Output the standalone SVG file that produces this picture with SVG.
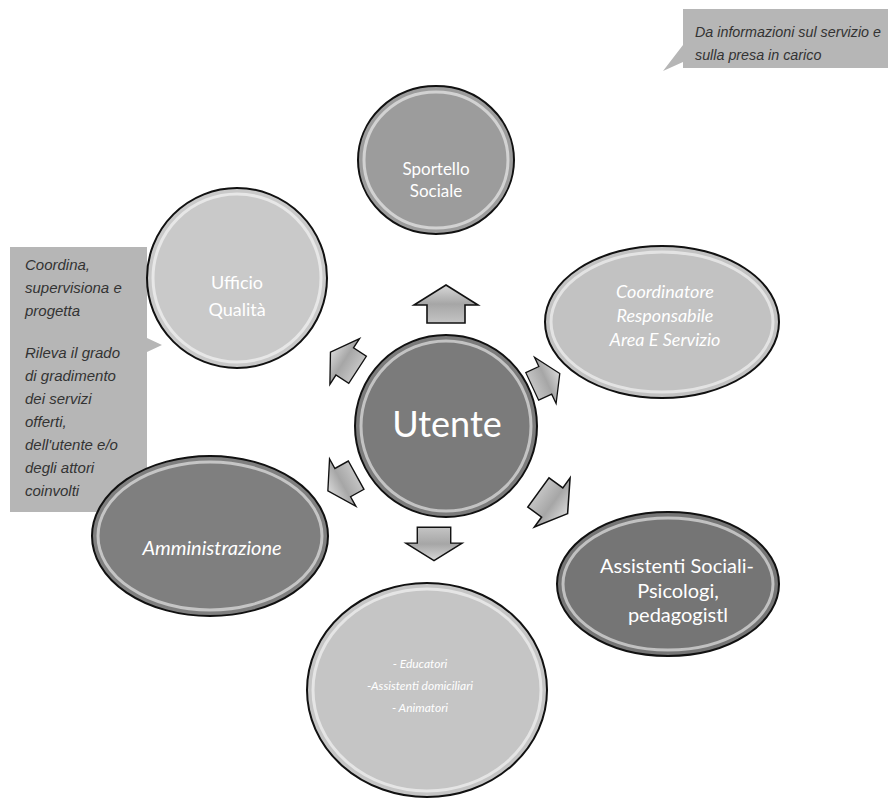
<svg xmlns="http://www.w3.org/2000/svg" xmlns:xlink="http://www.w3.org/1999/xlink" width="888" height="799" viewBox="0 0 888 799">
<style>
.node{stroke:#111;stroke-width:2}
.rim{fill:none;stroke:#fff;stroke-opacity:0.55;stroke-width:3}
.nt{font-family:Lato,"Open Sans",sans-serif;fill:#fff;text-anchor:middle}
.it{font-style:italic}
.ct{font-family:"Liberation Sans",Arial,sans-serif;font-style:italic;font-size:15px;fill:#333}
.callout{fill:#b6b6b6}
.arrow{fill:url(#ag);stroke:#111;stroke-width:1.6;stroke-linejoin:miter}
</style>
<defs>
<linearGradient id="ag" x1="0" y1="0" x2="0" y2="1">
<stop offset="0" stop-color="#d8d8d8"/>
<stop offset="0.5" stop-color="#a6a6a6"/>
<stop offset="1" stop-color="#c4c4c4"/>
</linearGradient>
<path id="arr" d="M0,-19 L32,1 L19,1 L19,19 L-19,19 L-19,1 L-32,1 Z"/>
</defs>
<rect width="888" height="799" fill="#fff"/>

<g id="callout-top">
<path class="callout" d="M683,9 L888,9 L888,68 L683,68 L683,62 L663,71 L683,45 Z"/>
<text class="ct" x="695" y="37" font-size="14.3" style="font-size:14.3px">Da informazioni sul servizio e</text>
<text class="ct" x="695" y="60" style="font-size:14.3px">sulla presa in carico</text>
</g>

<g id="callout-left">
<path class="callout" d="M10,247 L147,247 L147,338 L162,345 L147,352 L147,512 L10,512 Z"/>
<text class="ct" x="25" y="270">Coordina,</text>
<text class="ct" x="25" y="293">supervisiona e</text>
<text class="ct" x="25" y="316">progetta</text>
<text class="ct" x="25" y="358">Rileva il grado</text>
<text class="ct" x="25" y="381">di gradimento</text>
<text class="ct" x="25" y="404">dei servizi</text>
<text class="ct" x="25" y="427">offerti,</text>
<text class="ct" x="25" y="450">dell'utente e/o</text>
<text class="ct" x="25" y="473">degli attori</text>
<text class="ct" x="25" y="496">coinvolti</text>
</g>

<g id="connectors">
<use xlink:href="#arr" href="#arr" class="arrow" transform="translate(446,304)"/>
<use xlink:href="#arr" href="#arr" class="arrow" transform="translate(344,361) rotate(-57) scale(0.85)"/>
<use xlink:href="#arr" href="#arr" class="arrow" transform="translate(546,380) rotate(65) scale(0.8)"/>
<use xlink:href="#arr" href="#arr" class="arrow" transform="translate(553,503) rotate(126) scale(0.95)"/>
<use xlink:href="#arr" href="#arr" class="arrow" transform="translate(434,544) rotate(180) scale(0.88)"/>
<use xlink:href="#arr" href="#arr" class="arrow" transform="translate(342,483) rotate(-119) scale(0.85)"/>
</g>

<g id="sportello">
<ellipse class="node" cx="436" cy="160" rx="78" ry="74" fill="#9c9c9c"/>
<ellipse class="rim" cx="436" cy="160" rx="72" ry="68"/>
<text class="nt" x="436" y="175" font-size="17">Sportello</text>
<text class="nt" x="436" y="197" font-size="17">Sociale</text>
</g>

<g id="ufficio">
<ellipse class="node" cx="237" cy="278" rx="90" ry="90" fill="#c9c9c9"/>
<ellipse class="rim" cx="237" cy="278" rx="84" ry="84"/>
<text class="nt" x="237" y="289" font-size="18">Ufficio</text>
<text class="nt" x="237" y="316" font-size="18">Qualità</text>
</g>

<g id="coordinatore">
<ellipse class="node" cx="662" cy="322" rx="117" ry="76" fill="#c2c2c2"/>
<ellipse class="rim" cx="662" cy="322" rx="111" ry="70"/>
<text class="nt it" x="665" y="298" font-size="18">Coordinatore</text>
<text class="nt it" x="665" y="322" font-size="18">Responsabile</text>
<text class="nt it" x="665" y="346" font-size="18">Area E Servizio</text>
</g>

<g id="utente">
<ellipse class="node" cx="446" cy="426" rx="91" ry="91" fill="#7b7b7b"/>
<ellipse class="rim" cx="446" cy="426" rx="85" ry="85"/>
<text class="nt" x="447" y="437" font-size="36">Utente</text>
</g>

<g id="amministrazione">
<ellipse class="node" cx="210" cy="536" rx="118" ry="80" fill="#7f7f7f"/>
<ellipse class="rim" cx="210" cy="536" rx="112" ry="74"/>
<text class="nt it" x="212" y="555" font-size="20">Amministrazione</text>
</g>

<g id="assistenti">
<ellipse class="node" cx="668" cy="584" rx="111" ry="72" fill="#757575"/>
<ellipse class="rim" cx="668" cy="584" rx="105" ry="66"/>
<text class="nt" x="677" y="573" font-size="20">Assistenti Sociali-</text>
<text class="nt" x="678" y="598" font-size="20">Psicologi,</text>
<text class="nt" x="678" y="622" font-size="20">pedagogistl</text>
</g>

<g id="educatori">
<ellipse class="node" cx="427" cy="690" rx="120" ry="107" fill="#c5c5c5"/>
<ellipse class="rim" cx="427" cy="690" rx="114" ry="101"/>
<text class="nt it" x="420" y="668" font-size="12">- Educatori</text>
<text class="nt it" x="420" y="690" font-size="12">-Assistenti domiciliari</text>
<text class="nt it" x="420" y="712" font-size="12">- Animatori</text>
</g>
</svg>
